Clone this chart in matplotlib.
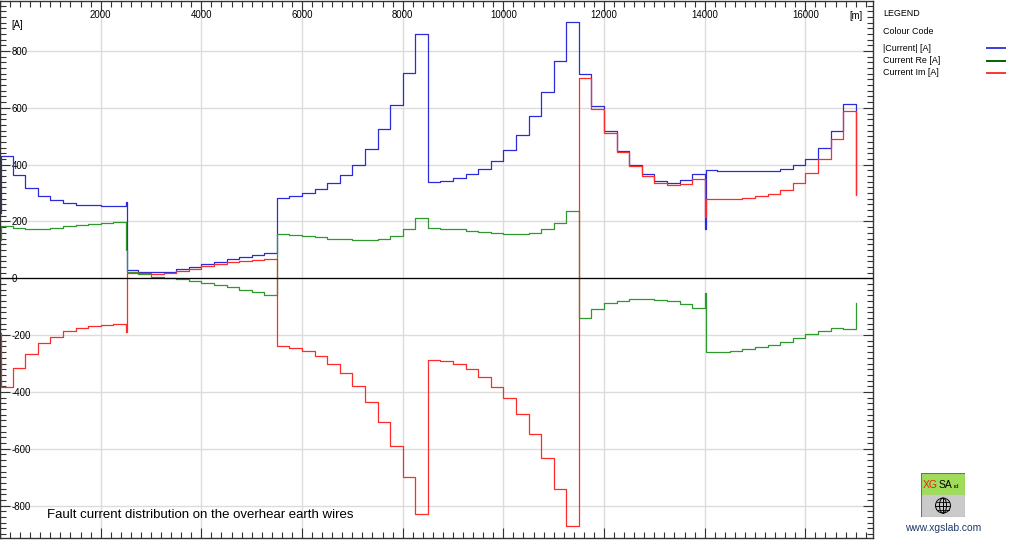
import numpy as np
import matplotlib
matplotlib.use('Agg')
import matplotlib.pyplot as plt
from matplotlib.ticker import MultipleLocator
from matplotlib.lines import Line2D
from matplotlib.patches import Rectangle, Circle, Ellipse

plt.rcParams['font.family'] = ['Liberation Sans', 'DejaVu Sans']
plt.rcParams['axes.unicode_minus'] = False

span = 250  # m between towers, values are constant over each span

# |Current| [A] per span
i_abs = [430, 364, 319, 290, 275, 265, 259, 257, 255, 254,
         29, 23, 21, 23, 34, 41, 49, 58, 67, 76, 82, 90,
         284, 290, 299, 313, 334, 363, 400, 454, 526, 610, 722, 859,
         338, 343, 352, 366, 385, 413, 453, 505, 570, 657, 766, 902,
         719, 606, 519, 449, 400, 367, 343, 337, 346, 366,
         381, 378, 378, 378, 378, 378, 384, 399, 419, 460, 520, 615]
# Current Re [A]
i_re = [185, 176, 172, 174, 178, 183, 188, 192, 195, 197,
        21, 15, 6, 2, -4, -10, -17, -24, -32, -41, -49, -59,
        155, 152, 149, 144, 139, 137, 135, 135, 139, 150, 172, 211,
        178, 175, 172, 168, 163, 158, 155, 155, 158, 172, 196, 236,
        -141, -108, -88, -79, -73, -73, -78, -80, -90, -106,
        -258, -258, -256, -250, -243, -236, -223, -211, -197, -184, -176, -177]
# Current Im [A]
i_im = [-384, -317, -268, -229, -208, -187, -176, -169, -164, -161,
        18, 18, 15, 18, 26, 34, 43, 51, 57, 62, 65, 68,
        -238, -247, -255, -274, -302, -335, -379, -434, -505, -590, -701, -831,
        -288, -291, -303, -320, -349, -382, -423, -478, -548, -634, -742, -872,
        704, 596, 513, 444, 395, 360, 337, 329, 331, 349,
        278, 278, 279, 282, 290, 297, 311, 337, 372, 419, 489, 589]

# values right at some towers (start, section changes, end)
spike_pos = [0, 2500, 14000, 17000]
spike_abs = [230, 268, 175, 297]
spike_re = [135, 100, -53, -88]
spike_im = [-193, -190, 215, 293]

names = ['|Current| [A]', 'Current Re [A]', 'Current Im [A]']
colors = ['#2b2bd9', '#2e9a2e', '#ff2b2b']
legend_colors = ['#3a3ae0', '#006400', '#ff3333']


def build(vals, sp):
    xs, ys = [], []
    for k, v in enumerate(vals):
        x = k * span
        if x in spike_pos:
            xs.append(x)
            ys.append(sp[spike_pos.index(x)])
            x = x + 20
        xs.append(x)
        ys.append(v)
    xs.append(len(vals) * span)
    ys.append(sp[-1])
    return xs, ys


fig = plt.figure(figsize=(10.24, 5.4), dpi=100)
ax = fig.add_axes([0.0, 2.3 / 540, 873.3 / 1024, 536.7 / 540])

for vals, sp, c in zip([i_abs, i_re, i_im], [spike_abs, spike_re, spike_im], colors):
    xs, ys = build(vals, sp)
    ax.plot(xs, ys, drawstyle='steps-post', color=c, lw=0.9)

ax.axhline(0, color='black', lw=0.9)

ax.set_xlim(0, 17350)
ax.set_ylim(-913, 976)
ax.set_xticks(range(2000, 17000, 2000))
ax.xaxis.set_minor_locator(MultipleLocator(200))
ax.yaxis.set_major_locator(MultipleLocator(200))
ax.yaxis.set_minor_locator(MultipleLocator(20))
ax.grid(True, which='major', color='#dcdcdc', lw=1.0)
ax.set_axisbelow(True)

ax.tick_params(which='both', direction='in', top=True, bottom=True, left=True, right=True,
               labeltop=True, labelbottom=False, color='#333333', width=0.8, labelsize=6.9)
ax.tick_params(which='major', length=7)
ax.tick_params(which='minor', length=4)
ax.tick_params(axis='x', pad=-13.5)
ax.tick_params(axis='y', pad=-8.3)
for lab in ax.get_yticklabels():
    lab.set_horizontalalignment('left')
for s in ax.spines.values():
    s.set_color('#333333')
    s.set_linewidth(1.0)

ax.text(11 / 873.3, 1 - 24 / 536.7, '[A]', transform=ax.transAxes, fontsize=6.9, va='center')
ax.text(849 / 873.3, 1 - 15 / 536.7, '[m]', transform=ax.transAxes, fontsize=6.9, va='center')
ax.text(47 / 873.3, 22.7 / 536.7, 'Fault current distribution on the overhear earth wires',
        transform=ax.transAxes, fontsize=9.5, va='center')

# legend panel
fig.text(883 / 1024, 1 - 13 / 540, 'LEGEND', fontsize=6.4, va='center')
fig.text(883 / 1024, 1 - 32 / 540, 'Colour Code', fontsize=6.4, va='center')
for k, (nm, c) in enumerate(zip(names, legend_colors)):
    yy = 1 - (48.3 + 12.2 * k) / 540
    fig.text(883 / 1024, yy, nm, fontsize=6.4, va='center')
    fig.add_artist(Line2D([987 / 1024, 1005 / 1024], [yy, yy], color=c, lw=1.4))

# logo
lax = fig.add_axes([921 / 1024, 23 / 540, 44 / 1024, 44 / 540])
lax.set_xlim(0, 1)
lax.set_ylim(0, 1)
lax.axis('off')
lax.add_patch(Rectangle((0, 0.5), 1, 0.5, color='#9fdc5a'))
lax.add_patch(Rectangle((0, 0), 1, 0.5, color='#cacaca'))
lax.add_patch(Rectangle((0.01, 0.01), 0.98, 0.98, fill=False, ec='#707070', lw=0.8))
lax.text(0.05, 0.72, 'XG', color='#e8201c', fontsize=7.5, va='center')
lax.text(0.40, 0.72, 'SA', color='black', fontsize=7.5, va='center')
lax.text(0.75, 0.69, 'rd', color='black', fontsize=4.5, va='center')
lax.add_patch(Circle((0.5, 0.26), 0.17, fill=False, ec='black', lw=0.7))
lax.add_patch(Ellipse((0.5, 0.26), 0.16, 0.34, fill=False, ec='black', lw=0.7))
lax.plot([0.33, 0.67], [0.26, 0.26], color='black', lw=0.7)
lax.plot([0.5, 0.5], [0.09, 0.43], color='black', lw=0.7)
lax.plot([0.36, 0.64], [0.35, 0.35], color='black', lw=0.6)
lax.plot([0.36, 0.64], [0.17, 0.17], color='black', lw=0.6)
fig.text(943 / 1024, 1 - 528 / 540, 'www.xgslab.com', color='#1f3b66', fontsize=7.4,
         ha='center', va='center')

fig.savefig('out.png', dpi=100)
